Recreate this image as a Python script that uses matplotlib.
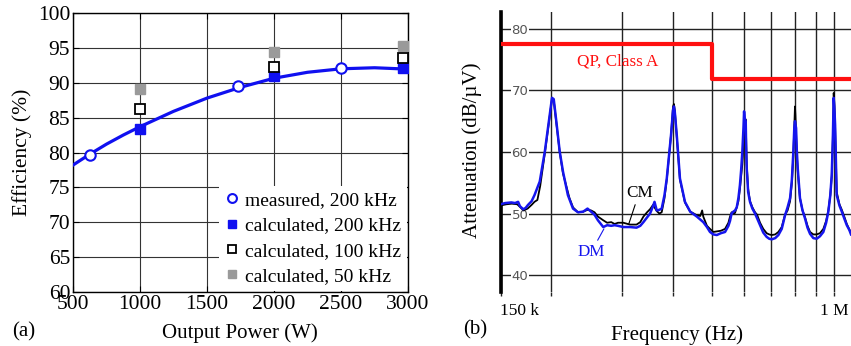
import numpy as np
import matplotlib
matplotlib.use('Agg')
import matplotlib.pyplot as plt

plt.rcParams['font.family'] = ['Liberation Serif', 'DejaVu Serif']

# ===================== data: (a) efficiency ==============================
meas_p = [625, 1735, 2500]
meas_eff = [79.6, 89.5, 92.05]

calc_p = [1000, 2000, 2960]
calc200_eff = [83.3, 90.9, 92.1]
calc100_eff = [86.2, 92.2, 93.6]
calc50_eff = [89.1, 94.45, 95.2]

fit_p = [500, 625, 750, 875, 1000, 1250, 1500, 1750, 2000, 2250, 2500, 2750, 3000]
fit_eff = [78.2, 79.75, 81.2, 82.5, 83.7, 85.9, 87.8, 89.35, 90.65, 91.5, 92.0, 92.15, 91.95]

# ===================== data: (b) attenuation spectrum =====================
dm_khz = [150, 154, 159.5, 163, 165.8, 167.5, 170.6, 173, 175.4, 179, 182, 187.5, 193, 198.5,
          201, 203, 206, 210, 214, 220, 226.5, 233, 240, 246, 251, 256, 261, 269, 275, 281.5,
          287, 292.5, 301.5, 313, 325, 332, 338, 351, 357, 360, 364.6, 370, 375, 381, 386,
          395.5, 400, 402, 404, 408.5, 416, 428, 441, 458, 475, 485, 493.5, 503, 513, 525,
          537.6, 548, 553, 558, 563.5, 569, 574.5, 580, 585, 589, 593, 597, 599, 601, 604.6,
          606, 608, 613, 619.5, 628, 637.5, 656, 668, 681, 691, 701, 715, 728, 742, 756, 767,
          778, 786, 792.6, 797, 800, 802, 805, 808, 812.5, 823, 835, 847, 859, 871.5, 888,
          905, 922, 940, 955, 967, 978, 986, 992, 997, 1001, 1005, 1010, 1014, 1030, 1044,
          1060, 1074, 1090, 1100]
dm_db = [51.5, 51.7, 51.8, 51.7, 51.9, 51.2, 50.7, 50.9, 51.4, 52.0, 53.0, 55.2, 60.1, 66.1,
         68.8, 68.6, 65.0, 60.1, 56.8, 53.0, 50.8, 50.2, 50.3, 50.8, 50.3, 49.8, 48.9, 47.8, 48.1, 48.0,
         48.1, 48.0, 47.8, 47.8, 47.7, 48.0, 48.6, 50.0, 51.2, 51.9, 50.5, 50.6, 50.8, 53.0, 55.7,
         62.8, 66.8, 67.4, 66.5, 62.8, 55.7, 51.9, 50.3, 49.5, 48.6, 47.8, 47.0, 46.6, 46.5, 46.8,
         47.0, 48.0, 48.8, 50.0, 50.3, 50.5, 51.0, 52.5, 54.6, 57.0, 60.0, 64.0, 66.6, 65.5, 65.0,
         61.0, 57.4, 53.5, 51.9, 50.8, 50.0, 48.1, 46.9, 46.2, 45.9, 45.8, 46.0, 46.5, 47.5, 49.7, 51.0,
         52.5, 55.5, 60.0, 64.0, 65.0, 64.5, 63.9, 60.5, 57.4, 52.5, 50.5, 49.2, 47.7, 46.7, 46.0,
         45.9, 46.3, 47.0, 48.5, 50.3, 53.0, 56.3, 62.0, 68.8, 67.0, 64.4, 58.0, 53.0, 51.3, 50.3,
         49.1, 48.1, 47.3, 46.6]

cm_khz = [150, 155, 160, 165, 168, 171, 175, 179, 182, 185, 188, 193, 198.5, 201, 203, 206,
          210, 214, 218, 222, 226.5, 233, 240, 246, 251, 256, 261, 269, 275, 281.5, 287, 292.5,
          301.5, 313, 325, 332, 338, 345, 351, 357, 364.6, 370, 375, 381, 386, 395.5, 400, 402,
          404, 408.5, 416, 428, 441, 450, 458, 467, 472, 475, 485, 493.5, 503, 513, 525, 537.6,
          548, 553, 558, 563.5, 569, 574.5, 580, 585, 589, 593, 597, 599, 601, 604.6, 606, 608,
          613, 619.5, 628, 637.5, 645, 656, 668, 681, 691, 701, 715, 728, 742, 756, 767, 778, 786,
          792.6, 797, 800, 802, 805, 808, 812.5, 823, 835, 847, 859, 871.5, 888, 905, 922, 940,
          955, 967, 978, 986, 992, 997, 1001, 1005, 1010, 1014, 1030, 1044, 1060, 1074, 1090, 1100]
cm_db = [51.3, 51.5, 51.6, 51.5, 51.0, 50.5, 50.8, 51.4, 51.9, 52.2, 54.5, 59.8, 65.8, 68.6, 68.4, 64.8,
         60.0, 56.5, 54.5, 52.5, 51.0, 50.2, 50.3, 50.6, 50.5, 50.2, 49.5, 48.9, 48.5, 48.6, 48.3, 48.5,
         48.5, 48.2, 48.2, 48.6, 49.5, 50.2, 50.7, 51.4, 50.4, 50.0, 50.2, 52.5, 55.5, 62.8, 67.4, 67.8,
         66.8, 62.5, 55.5, 51.8, 50.3, 50.0, 49.7, 49.6, 50.5, 49.5, 48.0, 47.5, 47.0, 47.1, 47.2, 47.5,
         48.5, 49.5, 50.2, 50.0, 50.1, 51.0, 52.0, 54.0, 56.0, 58.0, 61.0, 63.0, 64.8, 65.3, 62.0, 58.0,
         54.0, 52.0, 51.0, 50.2, 49.8, 48.5, 47.5, 46.8, 46.6, 46.5, 46.6, 47.0, 47.8, 49.8, 50.5, 52.0, 55.0,
         59.5, 64.5, 67.4, 66.0, 63.0, 60.0, 57.0, 52.5, 50.5, 49.4, 48.0, 47.0, 46.6, 46.6, 46.8, 47.5,
         48.8, 50.5, 53.0, 56.0, 62.0, 69.6, 67.5, 64.0, 58.5, 53.5, 51.5, 50.6, 49.4, 48.3, 47.4, 46.8]

limit_khz = [150, 500, 1100]
limit_db = [77.5, 71.8, 71.8]

freq_ticks_khz = [150, 200, 300, 400, 500, 600, 700, 800, 900, 1000]
freq_ticklabels = ['150 k', '', '', '', '', '', '', '', '', '1 M']
att_ticks = [40, 50, 60, 70, 80]

W, H = 851, 346
fig = plt.figure(figsize=(W / 100, H / 100), dpi=100)

# ===================== (a) =====================
ax1 = fig.add_axes([73 / W, 1 - 292 / H, (408 - 73) / W, (292 - 13) / H])
blue = '#1010f0'
ax1.plot(fit_p, fit_eff, color=blue, lw=2.3, zorder=3)
ax1.plot(meas_p, meas_eff, 'o', mfc='white', mec=blue, mew=1.5, ms=7.5, zorder=4,
         label='measured, 200 kHz')
ax1.plot(calc_p, calc200_eff, 's', color=blue, ms=7.5, zorder=4, label='calculated, 200 kHz')
ax1.plot(calc_p, calc100_eff, 's', mfc='white', mec='black', mew=1.3, ms=7.5, zorder=4,
         label='calculated, 100 kHz')
ax1.plot(calc_p, calc50_eff, 's', color='#9a9a9a', ms=7.5, zorder=3, label='calculated, 50 kHz')

ax1.set_xlim(500, 3000)
ax1.set_ylim(60, 100)
ax1.set_xticks(range(500, 3001, 500))
ax1.set_yticks(range(60, 101, 5))
ax1.grid(True, color='#333333', lw=0.8)
ax1.set_axisbelow(True)
ax1.tick_params(direction='in', length=4, top=True, right=True, labelsize=15.5, pad=2)
for s in ax1.spines.values():
    s.set_linewidth(1.0)

leg = ax1.legend(loc='lower right', fontsize=14, frameon=True, fancybox=False,
                 handlelength=0.7, handletextpad=0.35, labelspacing=0.4, borderpad=0.3,
                 borderaxespad=0.05, markerscale=0.85)
leg.get_frame().set_edgecolor('none')
leg.get_frame().set_alpha(1)

fig.text(12 / W, 1 - 332 / H, '(a)', fontsize=15, va='center', ha='left')
fig.text(240 / W, 1 - 333 / H, 'Output Power (W)', fontsize=15, va='center', ha='center')
fig.text(22 / W, 1 - 152 / H, 'Efficiency (%)', fontsize=15.5, va='center', ha='center',
         rotation=90)

# ===================== (b) =====================
ax2 = fig.add_axes([500.5 / W, 1 - 292 / H, (W - 500.5) / W, (292 - 12) / H])
f_dm = np.array(dm_khz) * 1e3
f_cm = np.array(cm_khz) * 1e3
ax2.set_xscale('log')
ax2.plot(f_cm, cm_db, color='black', lw=1.3, zorder=3)
ax2.plot(f_dm, dm_db, color='#1515ee', lw=1.8, zorder=4)
ax2.step(np.array(limit_khz) * 1e3, limit_db, where='post', color='#ff1010', lw=3, zorder=5)

ax2.set_xlim(150e3, 1100e3)
ax2.set_ylim(37.24, 82.76)
ax2.set_xticks(np.array(freq_ticks_khz) * 1e3)
ax2.set_xticklabels(freq_ticklabels)
ax2.xaxis.set_minor_locator(matplotlib.ticker.NullLocator())
ax2.set_yticks(att_ticks)
ax2.grid(True, color='#222222', lw=1.0)
ax2.set_axisbelow(True)
ax2.tick_params(axis='x', direction='out', length=3, width=1.0, color='#222222',
                labelsize=12.5, pad=5)
ax2.tick_params(axis='y', direction='in', length=0, pad=-8, labelsize=9.5,
                labelcolor='#555555')
for lab in ax2.get_yticklabels():
    lab.set_family('DejaVu Sans')
    lab.set_horizontalalignment('left')
    lab.set_bbox(dict(facecolor='white', edgecolor='none', pad=0.6))
ax2.get_xticklabels()[0].set_horizontalalignment('left')
for side in ['top', 'right', 'bottom']:
    ax2.spines[side].set_visible(False)
ax2.spines['left'].set_linewidth(2.6)

ax2.text(0.333, 0.823, 'QP, Class A', transform=ax2.transAxes, color='#ff1010', fontsize=12.3,
         ha='center', va='center')
ax2.annotate('CM', xy=(311e3, 48.3), xytext=(330e3, 53.4), fontsize=12.3, ha='center',
             va='center', zorder=6,
             arrowprops=dict(arrowstyle='-', color='black', lw=0.8, shrinkA=1, shrinkB=0))
ax2.annotate('DM', xy=(270e3, 47.5), xytext=(251e3, 43.7), fontsize=12.3, ha='center',
             va='center', color='#1515ee', zorder=6,
             arrowprops=dict(arrowstyle='-', color='#1515ee', lw=0.8, shrinkA=1, shrinkB=0))

fig.text(472 / W, 1 - 150 / H, 'Attenuation (dB/µV)', fontsize=15, va='center', ha='center',
         rotation=90)
fig.text(463 / W, 1 - 330 / H, '(b)', fontsize=15, va='center', ha='left')
fig.text(677 / W, 1 - 335 / H, 'Frequency (Hz)', fontsize=15, va='center', ha='center')

fig.savefig('out.png', dpi=100)
